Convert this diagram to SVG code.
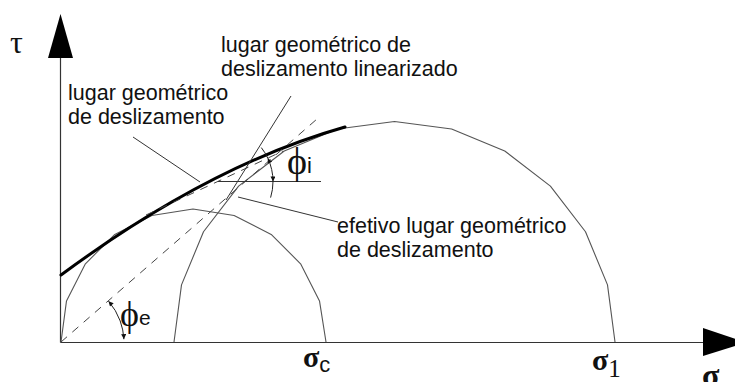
<svg xmlns="http://www.w3.org/2000/svg" width="735" height="382" viewBox="0 0 735 382">
<style>
.lbl{font-family:"Liberation Sans",Arial,sans-serif;font-size:21.5px;fill:#111}
.gr{font-family:"Liberation Serif","Times New Roman",serif;fill:#111}
.sg{font-family:"Liberation Serif","Times New Roman",serif;fill:#111;font-weight:bold}
.sub{font-family:"Liberation Sans",Arial,sans-serif;fill:#111}
.ax{stroke:#333;stroke-width:1.2;fill:none}
.circ{stroke:#555;stroke-width:1.1;fill:none;stroke-linejoin:round}
.env{stroke:#000;stroke-width:3;fill:none;stroke-linecap:round}
.dash{stroke:#444;stroke-width:1;fill:none;stroke-dasharray:8,7}
.thin{stroke:#333;stroke-width:1;fill:none}
.arc{stroke:#222;stroke-width:1;fill:none}
</style>
<defs>
<marker id="ah" viewBox="0 0 10 10" refX="10" refY="5" markerWidth="6" markerHeight="5" orient="auto" markerUnits="userSpaceOnUse"><path d="M0,0 L10,5 L0,10 z" fill="#111"/></marker>
</defs>
<g id="axes">
<line class="ax" x1="60.5" y1="342.5" x2="60.5" y2="56"/>
<polygon points="60.5,14 48,58 73,58" fill="#000"/>
<line class="ax" x1="60.5" y1="342.5" x2="705" y2="342.5"/>
<polygon points="746,342.5 703,328 703,356" fill="#000"/>
<text class="gr" x="10" y="53" font-size="32">τ</text>
<text class="sg" x="702" y="386" font-size="32">σ</text>
</g>
<g id="circle-small">
<polyline class="circ" points="61,342 66.5,300.9 85.4,263.8 114.8,234.4 151.9,215.5 193,209 234.1,215.5 271.2,234.4 300.6,263.8 319.5,300.9 326,342"/>
</g>
<g id="circle-large">
<polyline class="circ" points="174,342 181.5,284.9 203.5,231.75 238.6,186.1 284.25,151 337.4,129 394.5,121.5 451.6,129 504.75,151 550.4,186.1 585.5,231.75 607.5,284.9 615,342"/>
</g>
<g id="envelope">
<path class="env" d="M61,275 Q210,165 345,127"/>
</g>
<g id="connectors">
<line class="dash" x1="61" y1="342" x2="317" y2="119"/>
<line class="dash" x1="146" y1="215" x2="283" y2="151"/>
<line class="thin" x1="218" y1="181.5" x2="321" y2="181.5"/>
<line class="thin" x1="133" y1="137" x2="200" y2="182"/>
<line class="thin" x1="291" y1="96" x2="226" y2="200"/>
<line class="thin" x1="338" y1="222" x2="238" y2="197"/>
<path class="arc" d="M271.7,169.6 A55,55 0 0 0 267.85,158.26" marker-end="url(#ah)"/>
<path class="arc" d="M271.7,169.6 A55,55 0 0 1 273,181.5" marker-end="url(#ah)"/>
<path class="arc" d="M267.85,158.26 A55,55 0 0 0 261.3,147.6"/>
<path class="arc" d="M273,181.5 A55,55 0 0 1 270.6,197.6"/>
<path class="arc" d="M120.2,320.95 A63,63 0 0 0 108.55,301.2" marker-end="url(#ah)"/>
<path class="arc" d="M120.2,320.95 A63,63 0 0 1 123.9,339.2" marker-end="url(#ah)"/>
</g>
<g id="label-linearizado">
<text class="lbl" x="221" y="52">lugar geométrico de</text>
<text class="lbl" x="221" y="76">deslizamento linearizado</text>
</g>
<g id="label-deslizamento">
<text class="lbl" x="68" y="100">lugar geométrico</text>
<text class="lbl" x="68" y="124">de deslizamento</text>
</g>
<g id="label-efetivo">
<text class="lbl" x="337" y="233">efetivo lugar geométrico</text>
<text class="lbl" x="337" y="257">de deslizamento</text>
</g>
<g id="angle-phi-i">
<text x="287" y="174"><tspan class="gr" font-size="38">ϕ</tspan><tspan class="sub" font-size="22" y="173">i</tspan></text>
</g>
<g id="angle-phi-e">
<text x="120" y="326"><tspan class="gr" font-size="36">ϕ</tspan><tspan class="sub" font-size="21" y="325">e</tspan></text>
</g>
<g id="sigma-c">
<text x="303" y="367"><tspan class="sg" font-size="30">σ</tspan><tspan class="sub" font-size="22" y="372">c</tspan></text>
</g>
<g id="sigma-1">
<text x="592" y="370"><tspan class="sg" font-size="30">σ</tspan><tspan class="gr" font-size="25" y="377">1</tspan></text>
</g>
</svg>
